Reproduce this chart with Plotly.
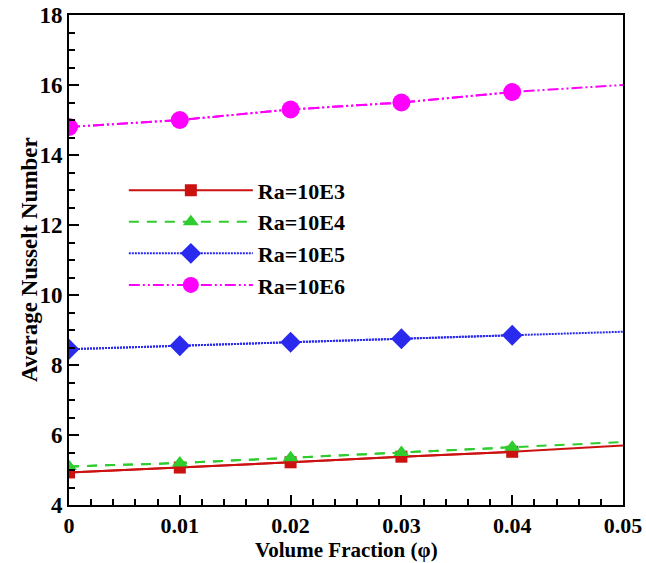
import plotly.graph_objects as go

phi = [0, 0.01, 0.02, 0.03, 0.04, 0.05]
nu_ra3 = [4.93, 5.07, 5.22, 5.38, 5.52, 5.70]
nu_ra4 = [5.10, 5.20, 5.35, 5.50, 5.65, 5.80]
nu_ra5 = [8.45, 8.55, 8.65, 8.75, 8.85, 8.95]
nu_ra6 = [14.80, 15.00, 15.30, 15.50, 15.80, 16.00]
names = ["Ra=10E3", "Ra=10E4", "Ra=10E5", "Ra=10E6"]
x_ticks = [0, 0.01, 0.02, 0.03, 0.04, 0.05]
x_ticktext = ["0", "0.01", "0.02", "0.03", "0.04", "0.05"]
y_ticks = [4, 6, 8, 10, 12, 14, 16, 18]
x_title = "Volume Fraction (φ)"
y_title = "Average Nusselt Number"

series = [nu_ra3, nu_ra4, nu_ra5, nu_ra6]
colors = ["#cc1111", "#2ecc2e", "#2a2aee", "#ff00ff"]
dashes = ["solid", "10px,8px", "2px,1px", "11px,3px,2px,3px,2px,3px"]
symbols = ["square", "triangle-up", "diamond", "circle"]
sizes = [12, 14, 16, 18]
widths = [2, 2, 2, 2]

fig = go.Figure()
for ys, c, d, s, sz, w, n in zip(series, colors, dashes, symbols, sizes, widths, names):
    fig.add_trace(go.Scatter(x=phi, y=ys, mode="lines", showlegend=False,
                             line=dict(color=c, dash=d, width=w), hoverinfo="skip"))
    fig.add_trace(go.Scatter(x=phi[:-1], y=ys[:-1], mode="lines+markers", name=n,
                             line=dict(color=c, dash=d, width=w),
                             marker=dict(symbol=s, size=sz, color=c)))

font_fam = "Liberation Serif, Times New Roman, serif"
fig.update_layout(
    width=646, height=563,
    margin=dict(l=69, r=23, t=15, b=58),
    paper_bgcolor="white", plot_bgcolor="white",
    font=dict(family=font_fam, size=24, color="black"),
    showlegend=True,
    legend=dict(x=0.099, y=0.685, xanchor="left", yanchor="top",
                bgcolor="rgba(0,0,0,0)", itemwidth=124, tracegroupgap=0,
                font=dict(family=font_fam, size=22, color="black", weight="bold")),
    xaxis=dict(range=[0, 0.05], tickvals=x_ticks, ticktext=x_ticktext,
               automargin=False,
               ticks="inside", ticklen=10, tickwidth=2, tickcolor="black",
               showline=True, linecolor="black", linewidth=2, mirror=True,
               showgrid=False, zeroline=False,
               tickfont=dict(family=font_fam, size=22, weight="bold"),
               minor=dict(dtick=0.002, ticks="inside", ticklen=6, tickwidth=1.5,
                          tickcolor="black", showgrid=False)),
    yaxis=dict(range=[4, 18], tickvals=y_ticks,
               automargin=False,
               ticks="inside", ticklen=10, tickwidth=2, tickcolor="black",
               showline=True, linecolor="black", linewidth=2, mirror=True,
               showgrid=False, zeroline=False,
               tickfont=dict(family=font_fam, size=23, weight="bold"),
               minor=dict(dtick=0.5, ticks="inside", ticklen=6, tickwidth=1.5,
                          tickcolor="black", showgrid=False)),
    annotations=[
        dict(text=x_title, xref="paper", yref="paper", x=0.5, y=-0.118,
             xanchor="center", yanchor="bottom", showarrow=False, borderpad=0,
             font=dict(family=font_fam, size=21, weight="bold")),
        dict(text=y_title, xref="paper", yref="paper", x=-0.072, y=0.5,
             xanchor="center", yanchor="middle", showarrow=False, textangle=-90,
             font=dict(family=font_fam, size=23, weight="bold")),
    ],
)

fig.write_html("out.html")
